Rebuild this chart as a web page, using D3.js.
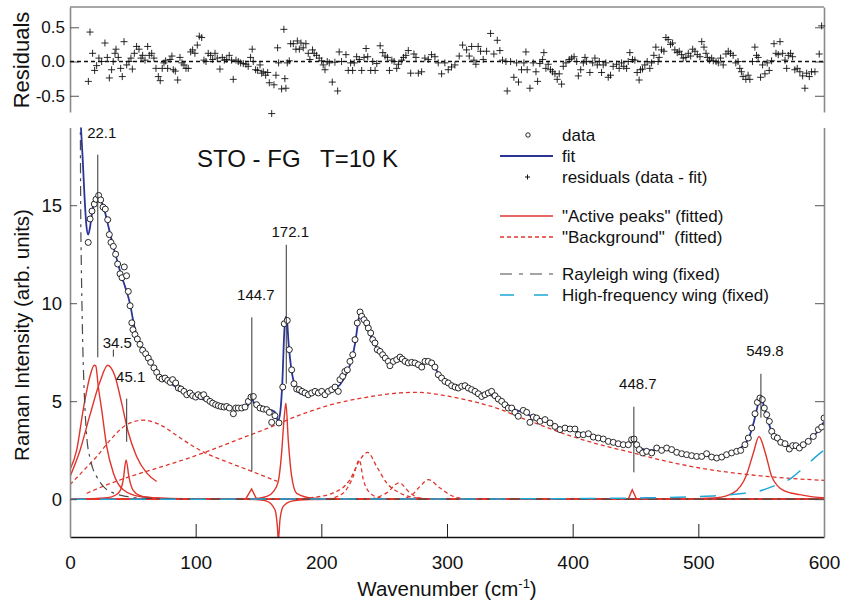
<!DOCTYPE html>
<html>
<head>
<meta charset="utf-8">
<title>STO - FG Raman spectrum, T=10 K</title>
<script src="https://cdn.jsdelivr.net/npm/d3@7"></script>
<style>
  body { margin: 0; background: #fff; }
  text { font-family: "Liberation Sans", Arial, Helvetica, sans-serif; fill: #111; }
</style>
</head>
<body>
<script>
// ---- data: [wavenumber (cm-1), intensity] ----
var dataPts = [[14.5,13.1],[16,14.3],[17.5,14.7],[19.3,15.06],[20.7,15.3],[22.8,15.5],[24.4,15.27],[26.3,14.9],[28.1,14.8],[30,14.26],[31.3,13.5],[32.6,13.1],[34.5,12.9],[36.3,12.5],[37.9,12.0],[39.8,11.5],[41.4,11.3],[43.2,11.85],[45,11.4],[46.4,10.6],[47.8,9.87],[49.2,9.0],
[50.1,8.65],[51.7,8.4],[53.6,8.17],[55.7,7.9],[57.8,7.6],[60.2,7.42],[62.3,7.2],[64.2,6.98],[66.8,6.7],[69,6.47],[71,6.23],[73.2,6.13],[75.6,6.18],[77.7,6.06],[79.8,5.96],[81.7,6.1],[84.1,5.93],[86.2,5.67],[88.3,5.62],[90.7,5.5],[92.9,5.33],[95.5,5.42],[97.6,5.28],[100,5.21],[102,5.33],[104.2,5.24],[106.4,5.33],[108.8,5.11],[111.4,4.99],[113.5,4.9],[115.9,4.82],[118,4.77],[120.2,4.73],[122.5,4.7],[124.7,4.73],[126.8,4.65],[130,4.36],[131.9,4.65],[133.9,4.65],[136.6,4.65],[139.3,4.7],[141.9,4.99],[144,5.21],[145.9,5.24],[148.5,4.82],[151.2,4.65],[153.8,4.6],[156.5,4.57],[158.6,4.43],[160.5,3.92],[163.1,4.26],[166.3,3.89],[169.3,5.72],[170.5,8.95],[172.9,9.12],[174.5,7.63],[176.4,6.6],[178.2,5.89],[180.4,5.62],[182.4,5.59],[184.6,5.5],[187,5.42],[189.6,5.33],[192.3,5.42],[195,5.5],[197.6,5.42],[200.3,5.5],[202.9,5.33],[205.6,5.5],[208.3,5.59],[210.9,5.72],[213.5,5.5],[214.8,6.1],[217,6.27],[218.8,6.52],[220.7,6.6],[222.8,7.03],[225,7.37],[226.8,8.14],[228.6,8.99],[230.8,9.55],[232.1,9.33],[234,9.16],[236.1,8.99],[237.4,8.73],[239.3,8.48],[240.9,8.14],[242.7,7.97],[244.5,7.63],[246.7,7.54],[248.8,7.37],[250.9,7.2],[253.3,7.03],[254.6,6.81],[257.3,7.03],[260,7.12],[262.6,7.25],[264.4,7.15],[266.6,7.03],[269.2,6.95],[271.9,6.98],[274.5,6.95],[277.2,6.86],[279.9,6.74],[282.5,7.03],[285.1,7.03],[287.8,6.95],[290.4,6.74],[293.1,6.35],[295.7,6.18],[298.4,6.01],[301,5.93],[303.7,5.79],[306.4,5.72],[309,5.67],[311.7,5.76],[314.3,5.79],[317,5.67],[319.6,5.59],[322.3,5.5],[324.9,5.38],[327.6,5.24],[330.2,5.33],[332.9,5.42],[335.5,5.5],[338.2,5.28],[340.8,5.11],[343.5,4.99],[346.1,4.82],[348.8,4.65],[351.5,4.65],[354.1,4.43],[356.7,4.23],
[360.7,4.53],[363.4,4.43],[366,3.92],[368.7,4.19],[371.3,4.14],[374,3.97],[378,4.06],[382,3.89],[385.9,3.71],[389.9,3.55],[393.9,3.63],[397.9,3.58],[401.8,3.58],[404.5,3.29],[408.5,3.29],[412.5,3.34],[416.4,3.17],[420.4,3.12],[424.4,3.07],[428.4,2.95],[432.3,2.9],[436.3,2.83],[440.3,2.78],[444.3,2.78],[446.9,3.04],[448.8,3.07],[450.9,2.78],[453,2.53],[455.7,2.36],[458.9,2.44],[462.9,2.36],[466.9,2.61],[470.8,2.49],[474.8,2.61],[478.8,2.53],[482.8,2.39],[486.8,2.32],[490.7,2.27],[494.7,2.22],[498.7,2.18],[502.7,2.18],[506.6,2.32],[510.6,2.15],[514.6,2.1],[518.6,2.15],[522.5,2.27],[526.5,2.36],[530.5,2.44],[533.7,2.49],[537.1,2.78],[539.8,3.12],[542.5,3.63],[545.1,4.36],[547,4.94],[549,5.16],[550.9,5.08],[552.5,4.65],[554.4,4.31],[556.5,3.97],[558.4,3.46],[560.3,3.2],[562.9,3.12],[565.6,2.9],[569,2.83],[572.4,2.56],[575.1,2.73],[577.7,2.73],[580.4,2.61],[583.5,2.78],[587.5,2.95],[591.5,3.2],[595.5,3.55],[598.1,3.68],[600,4.14]];

var fitPts = [[8.5,19.2],[10,17.5],[11.5,15.5],[13,14.0],[14.5,13.5],[16,13.9],[18,14.8],[20,15.3],[22.5,15.5],[25,15.2],[28,14.6],[31,13.8],[34,13.0],[37,12.3],[40,11.6],[43,11.0],[46,10.4],[48,9.9],[50,9.2],[52,8.6],[55,8.0],[58,7.6],[62,7.2],[66,6.8],[70,6.4],[75,6.1],[80,5.9],[85,5.7],[90,5.5],[95,5.35],[100,5.2],[105,5.1],[110,5.0],[115,4.88],[120,4.8],[125,4.72],[130,4.65],[135,4.62],[140,4.7],[143,4.9],[144.7,5.15],[146.5,4.9],[150,4.7],[155,4.6],[160,4.55],[163,4.45],[165.5,4.0],[167,4.3],[169,6.0],[170.5,8.5],[171.5,9.3],[172.5,9.2],[174,7.9],[176,6.7],[178,6.0],[180,5.6],[183,5.4],[186,5.35],[190,5.35],[195,5.4],[200,5.45],[205,5.5],[210,5.6],[215,5.85],[220,6.4],[224,7.1],[227,8.0],[229,8.9],[230.5,9.4],[232,9.3],[235,8.9],[238,8.5],[241,8.1],[245,7.6],[250,7.3],[255,7.1],[260,7.1],[265,7.05],[270,6.95],[275,6.9],[280,6.9],[285,6.95],[290,6.7],[295,6.3],[300,6.0],[305,5.8],[310,5.7],[315,5.7],[320,5.6],[325,5.45],[330,5.35],[335,5.3],[340,5.15],[345,4.95],[350,4.75],[355,4.55],[360,4.45],[365,4.3],[370,4.15],[375,4.05],[380,3.95],[385,3.8],[390,3.65],[395,3.6],[400,3.55],[405,3.4],[410,3.3],[415,3.2],[420,3.1],[425,3.0],[430,2.92],[435,2.85],[440,2.8],[445,2.82],[448.7,3.0],[452,2.7],[456,2.55],[460,2.5],[465,2.5],[470,2.5],[475,2.5],[480,2.45],[485,2.35],[490,2.28],[495,2.2],[500,2.18],[505,2.2],[510,2.2],[515,2.15],[520,2.2],[525,2.3],[530,2.45],[535,2.7],[540,3.1],[544,3.9],[547,4.7],[549.8,5.2],[552,4.8],[555,4.1],[558,3.5],[561,3.15],[565,2.9],[570,2.75],[575,2.7],[580,2.72],[585,2.85],[590,3.1],[595,3.45],[600,3.95]];

// residuals (data - fit)
var residPts = [[14.6,-0.29],[15.9,0.43],[18,0.12],[19.6,-0.13],[21.2,-0.06],[23,0.05],[25.2,0.0],[27.8,0.27],[29.7,0.06],[31.3,-0.24],[33.1,-0.12],[34.4,0],[35.8,0.12],[36.6,0.18],[38.4,0.06],[40.3,-0.1],[41.6,-0.22],[43,0.29],[45.1,-0.05],[46.9,0],[48.5,0.05],[49.6,-0.11],[51.2,0.12],[53,0.22],[54.9,0.18],[56.5,0.05],[57.8,0.09],[59.7,0.02],[61.8,0.22],[63.1,0.09],[65,0.12],[66.8,0.05],[68.4,-0.1],[70.3,-0.22],[71.8,-0.28],[73.4,-0.1],[74.8,-0.02],[76.1,0.01],[77.7,-0.1],[79.6,0.03],[81.1,0.08],[82.2,-0.12],[83.8,-0.14],[85.7,-0.27],[87.5,0.06],[89.1,-0.02],[90.7,-0.05],[92.3,-0.1],[94.1,-0.1],[96,0.14],[97.6,0.17],[99.4,0.12],[101.3,0.24],[102.9,0.37],[104.8,0.35],[106.6,0.02],[108.2,0],[110,0.12],[111.9,0.09],[113.5,0.03],[115.4,0.12],[117.2,0.05],[119.3,-0.11],[121.2,0.06],[122.8,0.02],[124.7,0.03],[126.7,0.09],[128.6,0.02],[129.9,-0.26],[132.1,0.02],[133.9,0],[135.8,-0.02],[137.9,-0.03],[140,-0.04],[141.8,-0.07],[143.7,0.06],[145,0.18],[145.8,0],[147.7,-0.12],[149.3,-0.13],[151.2,-0.05],[152.5,-0.17],[153.8,-0.15],[155.7,-0.2],[157.3,-0.16],[158.6,-0.31],[160.5,-0.76],[162.3,-0.34],[163.9,-0.2],[165.2,0.2],[166,-0.02],[168.4,-0.4],[170.2,0.47],[171,-0.25],[171.8,-0.39],[172.9,-0.02],[174.5,0.01],[175.6,0.26],[177.7,0.26],[179.8,0.18],[180.9,0.3],[182.5,0.18],[183.8,0.27],[185.6,0.2],[187.7,0.26],[189.6,0.12],[190.9,0.03],[193,0.17],[194.3,0.12],[196.2,0.09],[198.3,0.05],[200.2,0.01],[201.5,-0.05],[202.9,-0.12],[204.7,0],[206.3,-0.02],[208.7,-0.3],[210.8,-0.01],[213,-0.43],[214.2,0.14],[216.1,0],[219.6,0.1],[221.4,-0.13],[223.3,-0.02],[224.9,-0.13],[226.2,-0.02],[228.1,0.07],[230.2,0.03],[232.1,-0.13],[234,0.06],[235.6,0.19],[236.9,0.07],[239.3,-0.13],[240.9,0],[242.8,-0.13],[244.1,-0.03],[246.8,0.23],[248.9,0.13],[250.7,0.08],[252.6,0.06],[254.2,-0.13],[256.1,0.02],[257.9,0],[260,-0.1],[261.4,-0.04],[264,0.02],[265.4,0.06],[267.3,0.09],[269.2,0.16],[271.1,-0.17],[273.7,0.11],[275.3,0.06],[277.2,-0.17],
[279.8,-0.15],[282.4,0.05],[285.1,0.03],[287.7,0.1],[290.4,0.07],[293,-0.02],[295.7,-0.18],[298.3,-0.02],[301,-0.12],[303.6,-0.08],[306.3,-0.05],[309.7,0.08],[312.4,0.24],[315.6,0.17],[317.7,0.08],[319.6,0.22],[321.4,0.02],[323,-0.04],[324.8,0.22],[326.7,0.15],[328.8,0.03],[331.5,0.15],[334.7,0.41],[337.3,0.11],[340,0.31],[342.1,0.16],[344.2,0.02],[346.9,0],[347.9,-0.43],[350.6,0],[353.2,-0.23],[355.4,-0.02],[356.9,-0.3],[359.3,-0.12],[361.2,-0.02],[362.8,0.14],[363.8,-0.12],[366,-0.39],[368.6,-0.02],[370.8,-0.15],[372.1,-0.29],[373.9,-0.03],[376.1,0.03],[377.1,0.13],[378.7,-0.1],[380.5,-0.04],[382.4,-0.12],[384,-0.15],[385.9,-0.18],[387.7,-0.26],[389.3,-0.18],[391.2,-0.33],[392.5,-0.07],[394.7,-0.02],[397.3,0.03],[399.2,0.05],[401.1,0.07],[403.2,0],[404.5,-0.21],[406.4,-0.12],[408.5,-0.02],[409.8,0.06],[411.1,0],[413.7,-0.16],[415.9,-0.02],[417.7,0.05],[419.6,-0.05],[421.2,0],[423,-0.16],[424.3,-0.05],[426.4,-0.02],[428.3,-0.23],[430.1,-0.2],[432.2,-0.07],[434.9,-0.04],[437,-0.1],[438.9,-0.02],[440.7,-0.07],[442.9,-0.1],[444.2,0],[445.5,0.13],[447.6,0.03],[449.5,0.02],[451.3,-0.16],[452.9,-0.27],[454,-0.12],[455.6,-0.11],[457.4,-0.05],[459.3,0],[461.4,-0.1],[462.8,-0.02],[464.6,0.09],[466.2,0.21],[468,0],[468.8,0.06],[470.7,0.17],[472.6,0.15],[474.2,0.35],[476,0.32],[477.9,0.25],[479.5,0.27],[481.3,0.17],[483.2,0.13],[484.8,0.15],[486.7,0.1],[488,0.05],[490.1,0.06],[492,0.12],[493.9,0.08],[495.5,0.18],[497.3,0.15],[499.2,0.1],[501.3,0.07],[502.7,0.29],[504.5,0.21],[506.1,0.12],[507.2,0.06],[508.8,0.02],[510.6,0.05],[511.9,0.01],[514.1,0],[515.9,-0.02],[517.7,0.05],[519.8,-0.05],[522,0.11],[523.8,0.15],[525.6,0.12],[527.7,0.09],[529.8,-0.02],[531.6,0],[533,-0.1],[534.3,-0.15],[535.6,-0.22],[537.8,-0.26],[539.6,-0.2],[541,-0.26],[543.1,0],[545,0.21],[546.3,0.09],[547.6,0.06],[549.5,-0.23],[551.1,-0.05],[553,-0.18],[554.8,-0.02],[556.4,-0.13],[558.3,0.01],[560.2,0.26],[561.8,0.12],[563.6,0.1],[565,0.29],[567.1,0.12],[569,0.02],[570.3,-0.1],[571.6,0.09],[573.4,0.12],[575,0.07],[576.8,-0.12],[578.7,-0.1],[580.8,-0.15],[583,-0.21],[584.8,-0.39],[586.2,-0.17],[588.3,-0.22],[590.1,-0.15],[592.8,-0.15],[596.2,0.11],[598.1,0.52]];

// fitted "active" peaks (solid red)
var peak22 = [[0,1.5],[5.3,2.5],[10.6,4.6],[15.9,6.27],[19.3,6.83],[20.5,6.8],[22.5,5.75],[25.2,4.57],[29.2,2.7],[34.5,1.34],[42.4,0.48],[55.7,0.14],[80,0.04],[120,0],[600,0]];
var peak34 = [[0,1.15],[8,2.5],[15.9,4.3],[23.9,6.0],[30,6.83],[35.8,6.27],[41.1,4.9],[46.4,3.4],[53,2.18],[61,1.34],[69,0.9]];
var peak45 = [[0,0],[30,0.08],[36,0.2],[39.8,0.42],[42.4,1.0],[44.6,2.0],[47,1.1],[50,0.48],[55.7,0.18],[65,0.06],[80,0],[600,0]];
var peak145 = [[0,0],[139.7,0],[144.5,0.52],[148.5,0],[600,0]];
var peak172 = [[0,0],[140,0],[150,0.05],[156.5,0.14],[162,0.4],[165.7,0.9],[168.4,2.36],[170.3,4.06],[171.8,4.9],[173.7,3.0],[176.4,1.16],[180.4,0.3],[193.6,0.05],[220,0],[600,0]];
var dip166 = [[0,0],[140,0],[150,-0.03],[156.5,-0.1],[163.1,-0.54],[165,-1.39],[165.8,-2.1],[167.1,-1.05],[169.7,-0.37],[176.4,-0.1],[190,-0.02],[210,0],[600,0]];
var peak449 = [[0,0],[444.2,0],[447.4,0.48],[450.9,0],[600,0]];
var peak550 = [[0,0],[480,0],[500,0.03],[514.5,0.07],[527.8,0.32],[538.4,1.25],[543.8,2.36],[548.3,3.2],[553.3,2.36],[558.4,1.16],[567.7,0.45],[580.8,0.23],[599.4,0.08],[600,0.08]];
var activePeaks = [peak22, peak34, peak45, peak145, peak172, dip166, peak449, peak550];

// "background" components (dashed red)
var bgLow = [[0,0.74],[10.6,1.45],[21.2,2.17],[31.8,3.0],[45,3.8],[58.3,4.03],[71.6,3.8],[84.9,3.25],[98,2.7],[111.4,2.25],[125,1.9],[144.6,1.42],[165,0.91]];
var bgBroad = [[13.3,0.3],[30,0.75],[50,1.2],[70,1.6],[90,2.0],[110,2.45],[130,2.95],[156.5,3.6],[183,4.3],[209.5,4.85],[236,5.2],[262.5,5.42],[275.8,5.45],[302,5.24],[328.8,4.85],[342,4.6],[355,4.25],[368.7,3.92],[395,3.3],[421.7,2.78],[448.3,2.36],[474.8,1.93],[501.3,1.59],[527.8,1.34],[554.4,1.16],[580.8,1.03],[600,0.96]];
var bg230 = [[205,0],[217.5,0.32],[225.4,1.16],[230.2,2.0],[233.4,1.0],[238.7,0.32],[246.7,0.06],[255,0]];
var bg237 = [[185,0],[191,0.06],[209.5,0.32],[222.8,1.0],[230.7,2.0],[236.8,2.39],[244,1.67],[252,0.83],[262.5,0.32],[275.8,0.06],[290,0]];
var bg262 = [[240,0],[252,0.32],[262,0.83],[270.5,0.32],[278.5,0.06],[290,0]];
var bg285 = [[262,0],[270.5,0.14],[278.5,0.65],[285.1,1.0],[294.4,0.57],[305,0.14],[315.6,0.02],[325,0]];
var bgPeaks = [bgLow, bgBroad, bg230, bg237, bg262, bg285];

// fixed wings
var rayleigh = [[8.2,19.5],[8.5,15],[9.0,12],[9.5,10],[10.3,7.5],[11.0,6],[12.0,4.5],[13.3,3.2],[15.9,2.1],[18,1.6],[21.2,1.15],[26.5,0.65],[34.5,0.32],[45,0.14],[55,0.06],[80,0.02],[120,0],[600,0]];
var hfWing = [[0,0],[300,0.01],[400,0.03],[450,0.06],[500,0.13],[520,0.2],[533,0.28],[547.7,0.4],[560.8,0.69],[574,1.08],[583.5,1.59],[595.5,2.27],[600,2.5]];

// marked peak positions and their marker lines (intensity from / to)
var peakPos    = [22.1, 34.5, 45.1, 144.7, 172.1, 448.7, 549.8];
var peakLabels = ["22.1", "34.5", "45.1", "144.7", "172.1", "448.7", "549.8"];
var markTop    = [17.58, 7.63, 5.13, 9.28, 12.98, 4.72, 6.4];
var markBottom = [7.24, 7.27, 2.93, 1.42, 5.89, 1.37, 4.16];
var labelLevel = [18.7, 7.98, 6.22, 10.43, 13.65, 5.89, 7.58];

var xTicks = [0, 100, 200, 300, 400, 500, 600];
var yTicks = [0, 5, 10, 15];
var rTicks = [-0.5, 0.0, 0.5];

// ---- layout ----
var W = 844, H = 600;
var red = "#e0352c", blue = "#2b3596", cyan = "#1ea7d8", grey = "#4a4a4a";

var svg = d3.select("body").append("svg").attr("width", W).attr("height", H);
svg.append("rect").attr("width", W).attr("height", H).attr("fill", "#fff");

var x = d3.scaleLinear().domain([0, 600]).range([70, 824]);
var y = d3.scaleLinear().domain([-1.93, 18.97]).range([537, 127.4]);
var yr = d3.scaleLinear().domain([-0.737, 0.796]).range([112, 7]);

svg.append("clipPath").attr("id", "clipMain")
  .append("rect").attr("x", 70).attr("y", 127.4).attr("width", 754).attr("height", 409.6);

var line = d3.line().x(function(d){ return x(d[0]); }).y(function(d){ return y(d[1]); })
  .curve(d3.curveMonotoneX);
var lineLin = d3.line().x(function(d){ return x(d[0]); }).y(function(d){ return y(d[1]); });

var plot = svg.append("g").attr("clip-path", "url(#clipMain)");

// background components
plot.selectAll("path.bg").data(bgPeaks).enter().append("path")
  .attr("class", "bg").attr("d", line)
  .attr("fill", "none").attr("stroke", red).attr("stroke-width", 1.3)
  .attr("stroke-dasharray", "4,3");

// active peaks
plot.selectAll("path.act").data(activePeaks).enter().append("path")
  .attr("class", "act")
  .attr("d", function(d){ return d.length <= 5 ? lineLin(d) : line(d); })
  .attr("fill", "none").attr("stroke", red).attr("stroke-width", 1.4);

// wings
plot.append("path").datum(rayleigh).attr("d", line)
  .attr("fill", "none").attr("stroke", grey).attr("stroke-width", 1.2)
  .attr("stroke-dasharray", "10,5,3,5");
plot.append("path").datum(hfWing).attr("d", line)
  .attr("fill", "none").attr("stroke", cyan).attr("stroke-width", 1.5)
  .attr("stroke-dasharray", "16,14");

// peak markers
var marks = svg.append("g");
marks.selectAll("line").data(peakPos).enter().append("line")
  .attr("x1", function(d){ return x(d); }).attr("x2", function(d){ return x(d); })
  .attr("y1", function(d, i){ return y(markTop[i]); })
  .attr("y2", function(d, i){ return y(markBottom[i]); })
  .attr("stroke", "#333").attr("stroke-width", 1);
marks.selectAll("text").data(peakLabels).enter().append("text")
  .text(function(d){ return d; })
  .attr("x", function(d, i){ return x(peakPos[i]) + 4; })
  .attr("y", function(d, i){ return y(labelLevel[i]) + 5; })
  .attr("text-anchor", "middle").attr("font-size", 15);

// fit
plot.append("path").datum(fitPts).attr("d", line)
  .attr("fill", "none").attr("stroke", blue).attr("stroke-width", 1.8);

// data circles
plot.selectAll("circle").data(dataPts).enter().append("circle")
  .attr("cx", function(d){ return x(d[0]); })
  .attr("cy", function(d){ return y(d[1]); })
  .attr("r", 3)
  .attr("fill", "#fff").attr("stroke", "#111").attr("stroke-width", 0.9);

// ---- main axes ----
var fmtH = function(d){ return d3.format(".1f")(d).replace("\u2212", "-"); };

var gx = svg.append("g").attr("transform", "translate(0,537)");
gx.call(d3.axisBottom(x).tickValues(d3.range(0, 601, 20)).tickSize(-6.5).tickSizeOuter(0).tickFormat(""));
gx.call(d3.axisBottom(x).tickValues(xTicks).tickSize(-13).tickSizeOuter(0).tickPadding(19));
gx.selectAll("text").attr("font-size", 19).attr("fill", "#111");
gx.selectAll("line").attr("stroke", "#222");
gx.select(".domain").attr("stroke", "#111").attr("stroke-width", 1.5);

var gy = svg.append("g").attr("transform", "translate(70,0)")
  .call(d3.axisLeft(y).tickValues(yTicks).tickSize(-7).tickSizeOuter(0).tickPadding(8));
gy.selectAll("text").attr("font-size", 18.5).attr("fill", "#111");
gy.select(".domain").attr("stroke", "#8a8a8a").attr("stroke-width", 1.6);
gy.selectAll("line").attr("stroke", "#555");

var gy2 = svg.append("g").attr("transform", "translate(824,0)")
  .call(d3.axisRight(y).tickValues(yTicks).tickSize(-9).tickSizeOuter(0).tickFormat(""));
gy2.select(".domain").attr("stroke", "#8a8a8a").attr("stroke-width", 1.6);
gy2.selectAll("line").attr("stroke", "#555");

// ---- residual panel ----
var rp = svg.append("g");
rp.append("line").attr("x1", 70).attr("x2", 824).attr("y1", 7).attr("y2", 7)
  .attr("stroke", "#8a8a8a").attr("stroke-width", 1.4);
var gr = rp.append("g").attr("transform", "translate(70,0)")
  .call(d3.axisLeft(yr).tickValues(rTicks).tickSize(-9).tickSizeOuter(0).tickPadding(5).tickFormat(fmtH));
gr.selectAll("text").attr("font-size", 17).attr("fill", "#111");
gr.select(".domain").attr("stroke", "#8a8a8a").attr("stroke-width", 1.6);
gr.selectAll("line").attr("stroke", "#555");
var gr2 = rp.append("g").attr("transform", "translate(824,0)")
  .call(d3.axisRight(yr).tickValues(rTicks).tickSize(-9).tickSizeOuter(0).tickFormat(""));
gr2.select(".domain").attr("stroke", "#8a8a8a").attr("stroke-width", 1.6);
gr2.selectAll("line").attr("stroke", "#555");

rp.append("line").attr("x1", 70).attr("x2", 824).attr("y1", yr(0)).attr("y2", yr(0))
  .attr("stroke", "#111").attr("stroke-width", 1.5).attr("stroke-dasharray", "4,3");

rp.selectAll("path.res").data(residPts).enter().append("path")
  .attr("class", "res")
  .attr("d", function(d){
    var cx = x(d[0]), cy = yr(d[1]);
    return "M" + (cx - 3.5) + "," + cy + "h7M" + cx + "," + (cy - 3.5) + "v7";
  })
  .attr("stroke", "#111").attr("stroke-width", 0.9).attr("fill", "none");

// ---- axis titles ----
svg.append("text").attr("transform", "translate(29,60) rotate(-90)")
  .attr("text-anchor", "middle").attr("font-size", 22).text("Residuals");
svg.append("text").attr("transform", "translate(29,335) rotate(-90)")
  .attr("text-anchor", "middle").attr("font-size", 20.5).text("Raman Intensity (arb. units)");
var xt = svg.append("text").attr("x", 447).attr("y", 596).attr("text-anchor", "middle").attr("font-size", 20.5);
xt.append("tspan").text("Wavenumber (cm");
xt.append("tspan").attr("dy", -8).attr("font-size", 13).text("-1");
xt.append("tspan").attr("dy", 8).text(")");

// title
svg.append("text").attr("x", 197).attr("y", 167).attr("font-size", 24).text("STO - FG");
svg.append("text").attr("x", 320).attr("y", 167).attr("font-size", 24).text("T=10 K");

// ---- legend ----
var legNames = ["data", "fit", "residuals (data - fit)", "\"Active peaks\" (fitted)", "\"Background\"  (fitted)", "Rayleigh wing (fixed)", "High-frequency wing (fixed)"];
var legRows = [135, 156, 177, 216, 237, 274, 295];
var leg = svg.append("g");
leg.selectAll("text").data(legNames).enter().append("text")
  .attr("x", 562).attr("y", function(d, i){ return legRows[i] + 6; })
  .attr("font-size", 17).attr("xml:space", "preserve").style("white-space", "pre")
  .text(function(d){ return d; });
leg.append("circle").attr("cx", 528).attr("cy", legRows[0]).attr("r", 2.2)
  .attr("fill", "#fff").attr("stroke", "#111").attr("stroke-width", 0.9);
leg.append("line").attr("x1", 500).attr("x2", 553).attr("y1", legRows[1]).attr("y2", legRows[1])
  .attr("stroke", blue).attr("stroke-width", 1.8);
leg.append("path").attr("d", "M525," + legRows[2] + "h5M527.5," + (legRows[2] - 2.5) + "v5")
  .attr("stroke", "#111").attr("stroke-width", 1);
leg.append("line").attr("x1", 500).attr("x2", 553).attr("y1", legRows[3]).attr("y2", legRows[3])
  .attr("stroke", red).attr("stroke-width", 1.4);
leg.append("line").attr("x1", 500).attr("x2", 553).attr("y1", legRows[4]).attr("y2", legRows[4])
  .attr("stroke", red).attr("stroke-width", 1.3).attr("stroke-dasharray", "4,3");
leg.append("line").attr("x1", 500).attr("x2", 553).attr("y1", legRows[5]).attr("y2", legRows[5])
  .attr("stroke", grey).attr("stroke-width", 1.2).attr("stroke-dasharray", "12,7,4,7");
leg.append("line").attr("x1", 500).attr("x2", 553).attr("y1", legRows[6]).attr("y2", legRows[6])
  .attr("stroke", cyan).attr("stroke-width", 1.5).attr("stroke-dasharray", "14,20");
</script>
</body>
</html>
